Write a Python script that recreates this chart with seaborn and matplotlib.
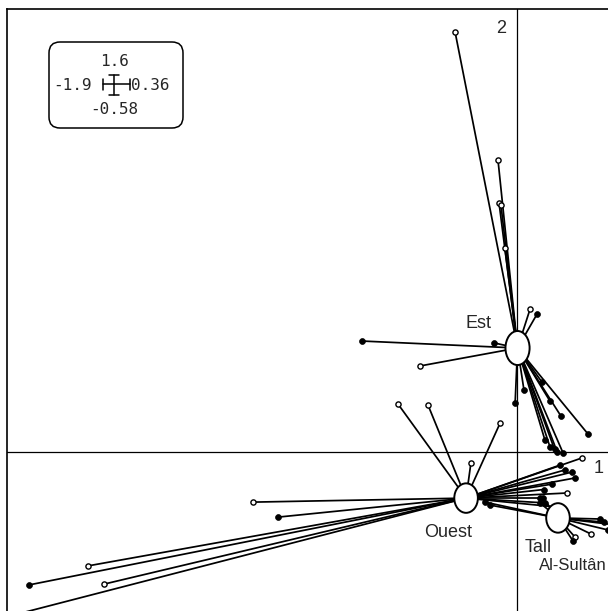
import matplotlib
matplotlib.use("Agg")
import matplotlib.pyplot as plt
import seaborn as sns
import pandas as pd
from matplotlib.patches import Ellipse, FancyBboxPatch

# ---- data (factorial coordinates) ----
classes = ["Est", "Ouest", "Tall Al-Sultân"]
center_x = [0.002, -0.190, 0.153]
center_y = [0.388, -0.172, -0.246]

est_x = [-0.231, -0.071, -0.067, -0.060, -0.045, 0.049, 0.075, -0.578, -0.086, -0.362,
         0.026, -0.007, 0.123, 0.093, 0.164, 0.265, 0.123, 0.172, 0.104, 0.150, 0.140]
est_y = [1.567, 1.090, 0.929, 0.922, 0.761, 0.534, 0.515, 0.414, 0.407, 0.321,
         0.231, 0.183, 0.190, 0.261, 0.134, 0.067, 0.019, -0.004, 0.045, 0.000, 0.010]
est_kind = ["o", "o", "o", "o", "o", "o", "f", "f", "f", "o",
            "f", "f", "f", "f", "f", "f", "f", "f", "f", "f", "f"]

ouest_x = [-0.444, -0.332, -0.063, -0.172, -0.985, -0.892, -1.601, -1.821, -1.541, -1.966,
           0.243, 0.205, 0.216, 0.187, 0.104, 0.160, 0.179, 0.086, 0.130, 0.100, 0.145]
ouest_y = [0.179, 0.175, 0.108, -0.041, -0.187, -0.243, -0.425, -0.496, -0.493, -0.631,
           -0.022, -0.075, -0.097, -0.153, -0.190, -0.049, -0.067, -0.172, -0.120, -0.140, -0.205]
ouest_kind = ["o", "o", "o", "o", "o", "f", "o", "f", "o", "f",
              "o", "f", "f", "o", "f", "f", "f", "f", "f", "f", "f"]

tall_x = [0.310, 0.340, 0.366, 0.276, 0.216, 0.209, 0.097, 0.086, -0.119, -0.101, 0.325]
tall_y = [-0.250, -0.291, -0.272, -0.306, -0.317, -0.332, -0.172, -0.190, -0.187, -0.198, -0.262]
tall_kind = ["f", "f", "f", "o", "o", "f", "f", "f", "f", "f", "f"]

legend_vals = {"top": "1.6", "left": "-1.9", "right": "0.36", "bottom": "-0.58"}

# ---- build table ----
rows = []
for cls, xs, ys, ks in zip(classes, [est_x, ouest_x, tall_x], [est_y, ouest_y, tall_y],
                           [est_kind, ouest_kind, tall_kind]):
    for x, y, k in zip(xs, ys, ks):
        rows.append({"cls": cls, "x": x, "y": y, "kind": k})
df = pd.DataFrame(rows)

sns.set_theme(style="white")
plt.rcParams["font.family"] = ["Liberation Sans", "DejaVu Sans"]

W, H = 608, 611
fig = plt.figure(figsize=(W / 100, H / 100), dpi=100)
ax = fig.add_axes([7 / W, 0, (W - 7) / W, (H - 9) / H])
scale = 268.0
ax.set_xlim((7 - 517) / scale, (W - 517) / scale)
ax.set_ylim((452 - H) / scale, (452 - 9) / scale)

for s in ["right", "bottom"]:
    ax.spines[s].set_visible(False)
for s in ["left", "top"]:
    ax.spines[s].set_color("black")
    ax.spines[s].set_linewidth(1.2)
ax.set_xticks([])
ax.set_yticks([])

ax.axhline(0, color="black", lw=0.9, zorder=0.5)
ax.axvline(0, color="black", lw=0.9, zorder=0.5)

# star lines
cmap = dict(zip(classes, zip(center_x, center_y)))
for _, r in df.iterrows():
    cx, cy = cmap[r["cls"]]
    ax.plot([cx, r["x"]], [cy, r["y"]], color="black", lw=1.25, zorder=1,
            solid_capstyle="butt")

# points
sns.scatterplot(data=df[df["kind"] == "o"], x="x", y="y", ax=ax, s=14,
                facecolor="white", edgecolor="black", linewidth=1.0, zorder=3, legend=False)
sns.scatterplot(data=df[df["kind"] == "f"], x="x", y="y", ax=ax, s=18,
                color="black", edgecolor="black", linewidth=0.5, zorder=3, legend=False)

# class ellipses
ell_w = [0.09, 0.088, 0.088]
ell_h = [0.127, 0.110, 0.110]
for (cx, cy, w, h) in zip(center_x, center_y, ell_w, ell_h):
    ax.add_patch(Ellipse((cx, cy), w, h, facecolor="white", edgecolor="black",
                         lw=1.4, zorder=4))

# class labels
lab_fs = 13
ax.text(-0.142, 0.478, "Est", ha="center", va="center", fontsize=lab_fs, zorder=5)
ax.text(-0.257, -0.302, "Ouest", ha="center", va="center", fontsize=lab_fs, zorder=5)
ax.text(0.030, -0.358, "Tall", ha="left", va="center", fontsize=lab_fs, zorder=5)
ax.text(0.083, -0.425, "Al-Sultân", ha="left", va="center", fontsize=12, zorder=5)

# axis numbers
ax.text(-0.060, 1.582, "2", ha="center", va="center", fontsize=13)
ax.text(0.306, -0.060, "1", ha="center", va="center", fontsize=13)

# legend box with scale cross
def fx(px):
    return px / W

def fy(py):
    return 1 - py / H

box = FancyBboxPatch((fx(49), fy(128)), fx(134), fy(42) - fy(128),
                     boxstyle="round,pad=0.0,rounding_size=0.018",
                     transform=fig.transFigure, facecolor="white", edgecolor="black",
                     lw=1.1, zorder=5)
fig.patches.append(box)
mono = "DejaVu Sans Mono"
tkw = dict(ha="center", va="center", family=mono, fontsize=11.5, zorder=12)
fig.text(fx(115), fy(62), legend_vals["top"], **tkw)
fig.text(fx(72), fy(86), legend_vals["left"], **tkw)
fig.text(fx(150), fy(86), legend_vals["right"], **tkw)
fig.text(fx(114), fy(109), legend_vals["bottom"], **tkw)
kw = dict(transform=fig.transFigure, color="black", lw=1.1, zorder=12)
fig.lines.append(plt.Line2D([fx(103), fx(130)], [fy(84), fy(84)], **kw))
fig.lines.append(plt.Line2D([fx(103), fx(103)], [fy(79), fy(90)], **kw))
fig.lines.append(plt.Line2D([fx(130), fx(130)], [fy(79), fy(90)], **kw))
fig.lines.append(plt.Line2D([fx(114), fx(114)], [fy(75), fy(95)], **kw))
fig.lines.append(plt.Line2D([fx(109), fx(119)], [fy(75), fy(75)], **kw))
fig.lines.append(plt.Line2D([fx(109), fx(119)], [fy(95), fy(95)], **kw))

fig.savefig("out.png", dpi=100)
